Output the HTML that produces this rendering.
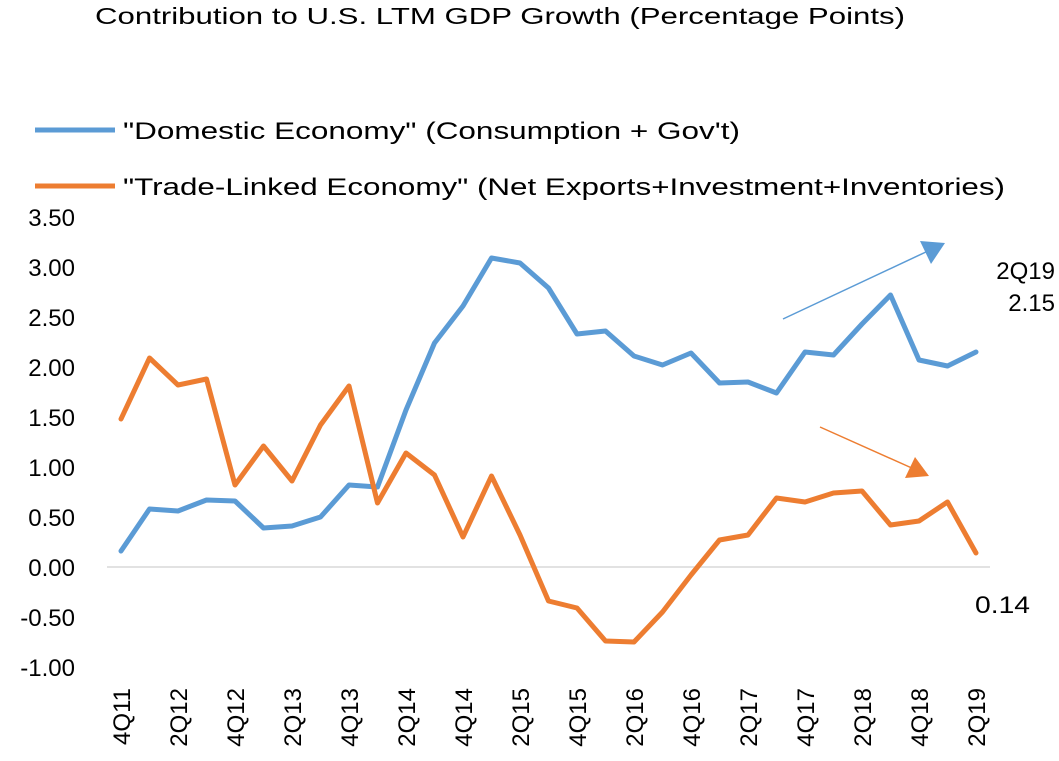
<!DOCTYPE html>
<html><head><meta charset="utf-8"><style>
body{margin:0;background:#fff;}
svg{display:block;font-family:"Liberation Sans",sans-serif;}
</style></head><body>
<svg id="chart" width="1059" height="761">
<text x="95" y="24" textLength="810" lengthAdjust="spacingAndGlyphs" font-size="23" fill="#000">Contribution to U.S. LTM GDP Growth (Percentage Points)</text>
<g>
<line x1="35" y1="130" x2="115" y2="130" stroke="#5B9BD5" stroke-width="5"/>
<text x="123" y="139" textLength="617" lengthAdjust="spacingAndGlyphs" font-size="24">"Domestic Economy" (Consumption + Gov't)</text>
<line x1="35" y1="186" x2="115" y2="186" stroke="#ED7D31" stroke-width="5"/>
<text x="123" y="195" textLength="882" lengthAdjust="spacingAndGlyphs" font-size="24">"Trade-Linked Economy" (Net Exports+Investment+Inventories)</text>
</g>
<g id="yaxis"></g>
<g id="xaxis"></g>
<line x1="107" y1="567" x2="990" y2="567" stroke="#d9d9d9" stroke-width="1.5"/>
<g id="series"></g>
<line x1="783" y1="319" x2="928" y2="251" stroke="#5B9BD5" stroke-width="1.5"/>
<path d="M920,241 L945,243 L931,264z" fill="#5B9BD5"/>
<line x1="820" y1="427" x2="914" y2="469" stroke="#ED7D31" stroke-width="1.5"/>
<path d="M905,478 L915,457 L929,476z" fill="#ED7D31"/>
<text x="1055" y="279" text-anchor="end" font-size="24">2Q19</text>
<text x="1055" y="311" text-anchor="end" font-size="24">2.15</text>
<text x="975" y="613" textLength="55" lengthAdjust="spacingAndGlyphs" font-size="24">0.14</text>
</svg>
<script>
const quarters=["4Q11","1Q12","2Q12","3Q12","4Q12","1Q13","2Q13","3Q13","4Q13","1Q14","2Q14","3Q14","4Q14","1Q15","2Q15","3Q15","4Q15","1Q16","2Q16","3Q16","4Q16","1Q17","2Q17","3Q17","4Q17","1Q18","2Q18","3Q18","4Q18","1Q19","2Q19"];
const domestic=[0.16,0.58,0.56,0.67,0.66,0.39,0.41,0.50,0.82,0.80,1.57,2.24,2.61,3.09,3.04,2.79,2.33,2.36,2.11,2.02,2.14,1.84,1.85,1.74,2.15,2.12,2.43,2.72,2.07,2.01,2.15];
const trade=[1.48,2.09,1.82,1.88,0.82,1.21,0.86,1.42,1.81,0.64,1.14,0.92,0.30,0.91,0.32,-0.34,-0.41,-0.74,-0.75,-0.45,-0.08,0.27,0.32,0.69,0.65,0.74,0.76,0.42,0.46,0.65,0.14];
const yTicks=[3.5,3,2.5,2,1.5,1,0.5,0,-0.5,-1];
const NS="http://www.w3.org/2000/svg";
const x=i=>121+i*28.5;
const y=v=>567-v*100;
const ya=document.getElementById('yaxis');
yTicks.forEach(v=>{const t=document.createElementNS(NS,'text');


t.setAttribute('x',75);t.setAttribute('y',y(v)+9);t.setAttribute('text-anchor','end');t.setAttribute('font-size','24');
t.textContent=v.toFixed(2);ya.appendChild(t);});
const xa=document.getElementById('xaxis');
quarters.forEach((q,i)=>{if(i%2)return;const t=document.createElementNS(NS,'text');


t.setAttribute('transform',`translate(${x(i)+9},688) rotate(-90)`);t.setAttribute('text-anchor','end');t.setAttribute('font-size','24');
t.textContent=q;xa.appendChild(t);});
const sg=document.getElementById('series');
[[domestic,'#5B9BD5','domestic-line'],[trade,'#ED7D31','trade-line']].forEach(([d,c,n])=>{
const p=document.createElementNS(NS,'polyline');


p.setAttribute('points',d.map((v,i)=>x(i)+','+y(v)).join(' '));
p.setAttribute('fill','none');p.setAttribute('stroke',c);p.setAttribute('stroke-width','5');p.setAttribute('stroke-linejoin','round');p.setAttribute('stroke-linecap','round');
sg.appendChild(p);});
</script>
</body></html>
